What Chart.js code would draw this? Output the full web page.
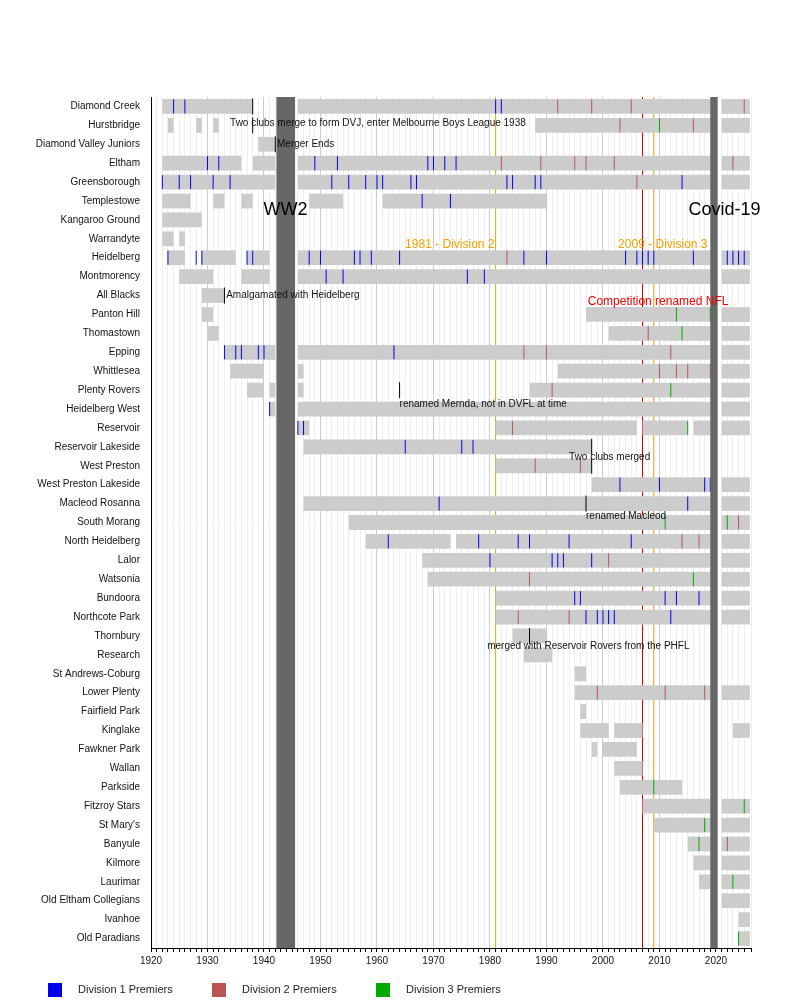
<!DOCTYPE html>
<html>
<head>
<meta charset="utf-8">
<script src="https://cdn.jsdelivr.net/npm/chart.js@4.4.1/dist/chart.umd.min.js"></script>
<style>
	body { margin: 0; background: #fff; font-family: 'Liberation Sans', Arial, sans-serif; }
	#wrap { position: relative; width: 800px; height: 1000px; }
	#legend { position: absolute; top: 983px; left: 48px; font-size: 11px; color: #222; }
	#legend span { position: absolute; white-space: nowrap; }
	#legend i { display: inline-block; width: 14px; height: 14px; vertical-align: middle; margin-right: 16px; }
</style>
</head>
<body>
<div id="wrap">
	<canvas id="chart" width="800" height="1000"></canvas>
	<div id="legend">
		<span style="left:0"><i style="background:#0000ee"></i>Division 1 Premiers</span>
		<span style="left:164px"><i style="background:#bb5555"></i>Division 2 Premiers</span>
		<span style="left:328px"><i style="background:#00aa00"></i>Division 3 Premiers</span>
	</div>
</div>
<script>
'use strict';

const clubs = ['Diamond Creek', 'Hurstbridge', 'Diamond Valley Juniors', 'Eltham', 'Greensborough', 'Templestowe',
	'Kangaroo Ground', 'Warrandyte', 'Heidelberg', 'Montmorency', 'All Blacks', 'Panton Hill', 'Thomastown', 'Epping',
	'Whittlesea', 'Plenty Rovers', 'Heidelberg West', 'Reservoir', 'Reservoir Lakeside', 'West Preston',
	'West Preston Lakeside', 'Macleod Rosanna', 'South Morang', 'North Heidelberg', 'Lalor', 'Watsonia', 'Bundoora',
	'Northcote Park', 'Thornbury', 'Research', 'St Andrews-Coburg', 'Lower Plenty', 'Fairfield Park', 'Kinglake',
	'Fawkner Park', 'Wallan', 'Parkside', 'Fitzroy Stars', "St Mary's", 'Banyule', 'Kilmore', 'Laurimar',
	'Old Eltham Collegians', 'Ivanhoe', 'Old Paradians'];

// Seasons played: [from, to] per club.
const seasons = [
	[[1922, 1938], [1946, 2020], [2021, 2026]],
	[[1923, 1924], [1928, 1929], [1931, 1932], [1988, 2020], [2021, 2026]],
	[[1939, 1942]],
	[[1922, 1936], [1938, 1942], [1946, 2020], [2021, 2026]],
	[[1922, 1942], [1946, 2020], [2021, 2026]],
	[[1922, 1927], [1931, 1933], [1936, 1938], [1948, 1954], [1961, 1990]],
	[[1922, 1929]],
	[[1922, 1924], [1925, 1926]],
	[[1923, 1926], [1929, 1935], [1937, 1941], [1946, 2020], [2021, 2026]],
	[[1925, 1931], [1936, 1941], [1946, 2020], [2021, 2026]],
	[[1929, 1933]],
	[[1929, 1931], [1997, 2020], [2021, 2026]],
	[[1930, 1932], [2001, 2020], [2021, 2026]],
	[[1933, 1942], [1946, 2020], [2021, 2026]],
	[[1934, 1940], [1946, 1947], [1992, 2020], [2021, 2026]],
	[[1937, 1940], [1941, 1942], [1946, 1947], [1987, 2020], [2021, 2026]],
	[[1941, 1942], [1946, 2020], [2021, 2026]],
	[[1946, 1948], [1981, 2006], [2007, 2015], [2016, 2020], [2021, 2026]],
	[[1947, 1998]],
	[[1981, 1998]],
	[[1998, 2020], [2021, 2026]],
	[[1947, 2020], [2021, 2026]],
	[[1955, 2020], [2021, 2026]],
	[[1958, 1973], [1974, 2020], [2021, 2026]],
	[[1968, 2020], [2021, 2026]],
	[[1969, 2020], [2021, 2026]],
	[[1981, 2020], [2021, 2026]],
	[[1981, 2020], [2021, 2026]],
	[[1984, 1990]],
	[[1986, 1991]],
	[[1995, 1997]],
	[[1995, 2020], [2021, 2026]],
	[[1996, 1997]],
	[[1996, 2001], [2002, 2007], [2023, 2026]],
	[[1998, 1999], [2000, 2006]],
	[[2002, 2007]],
	[[2003, 2014]],
	[[2007, 2020], [2021, 2026]],
	[[2009, 2020], [2021, 2026]],
	[[2015, 2020], [2021, 2026]],
	[[2016, 2020], [2021, 2026]],
	[[2017, 2020], [2021, 2026]],
	[[2019, 2020], [2021, 2026]],
	[[2024, 2026]],
	[[2024, 2026]]
];

const div1 = {
	'Diamond Creek': [1924, 1926, 1981, 1982],
	'Eltham': [1930, 1932, 1949, 1953, 1969, 1970, 1972, 1974],
	'Greensborough': [1922, 1925, 1927, 1931, 1934, 1952, 1955, 1958, 1960, 1961, 1966, 1967, 1983, 1984, 1988, 1989, 2014],
	'Templestowe': [1968, 1973],
	'Heidelberg': [1923, 1928, 1929, 1937, 1938, 1948, 1950, 1956, 1957, 1959, 1964, 1986, 1990, 2004, 2006, 2007, 2008, 2009, 2016, 2022, 2023, 2024, 2025],
	'Montmorency': [1951, 1954, 1976, 1979],
	'Epping': [1933, 1935, 1936, 1939, 1940, 1963],
	'Heidelberg West': [1941],
	'Reservoir': [1946, 1947],
	'Reservoir Lakeside': [1965, 1975, 1977],
	'West Preston Lakeside': [2003, 2010, 2018, 2019],
	'Macleod Rosanna': [1971, 2015],
	'North Heidelberg': [1962, 1978, 1985, 1987, 1994, 2005],
	'Lalor': [1980, 1991, 1992, 1993, 1998],
	'Bundoora': [1995, 1996, 2011, 2013, 2017],
	'Northcote Park': [1997, 1999, 2000, 2001, 2002, 2012]
};
const div2 = {
	'Diamond Creek': [1992, 1998, 2005, 2025],
	'Hurstbridge': [2003, 2016],
	'Eltham': [1982, 1989, 1995, 1997, 2002, 2023],
	'Greensborough': [2006],
	'Heidelberg': [1983],
	'Thomastown': [2008],
	'Epping': [1986, 1990, 2012],
	'Whittlesea': [2010, 2013, 2015, 2019],
	'Plenty Rovers': [1991],
	'Reservoir': [1984],
	'West Preston': [1988, 1996],
	'South Morang': [2024],
	'North Heidelberg': [2014, 2017],
	'Lalor': [2001],
	'Watsonia': [1987],
	'Northcote Park': [1985, 1994],
	'Lower Plenty': [1999, 2011, 2018],
	'Banyule': [2022]
};
const div3 = {
	'Hurstbridge': [2010],
	'Panton Hill': [2013, 2019],
	'Thomastown': [2014],
	'Plenty Rovers': [2012],
	'Reservoir': [2015],
	'South Morang': [2011, 2022],
	'Watsonia': [2016],
	'Parkside': [2009],
	'Fitzroy Stars': [2025],
	"St Mary's": [2018],
	'Banyule': [2017],
	'Laurimar': [2023],
	'Old Paradians': [2024]
};

// Black markers for club events.
const events = [
	['Diamond Creek', 1938], ['Hurstbridge', 1938], ['Diamond Valley Juniors', 1942], ['All Blacks', 1933],
	['Plenty Rovers', 1964], ['Reservoir Lakeside', 1998], ['West Preston', 1998], ['Macleod Rosanna', 1997],
	['Thornbury', 1987]
];
const notes = [
	['Two clubs merge to form DVJ, enter Melbourne Boys League 1938', 1934, 'Hurstbridge', -2],
	['Merger Ends', 1942.3, 'Diamond Valley Juniors', 0],
	['Amalgamated with Heidelberg', 1933.3, 'All Blacks', 0],
	['renamed Mernda, not in DVFL at time', 1964, 'Plenty Rovers', 14],
	['Two clubs merged', 1994, 'Reservoir Lakeside', 10],
	['renamed Macleod', 1997, 'Macleod Rosanna', 13],
	['merged with Reservoir Rovers from the PHFL', 1979.5, 'Thornbury', 10]
];

const barData = [];
clubs.forEach(function(club, i) {
	seasons[i].forEach(function(r) { barData.push({ x: r, y: club }); });
});
function marks(obj) {
	const out = [];
	Object.keys(obj).forEach(function(club) {
		obj[club].forEach(function(yr) { out.push({ x: yr, y: club }); });
	});
	return out;
}

const overlay = {
	id: 'overlay',
	beforeDatasetsDraw: function(chart) {
		const ctx = chart.ctx, xs = chart.scales.x, a = chart.chartArea;
		ctx.save();
		[[1981, '#f0a000'], [2009, '#f0a000'], [2007, '#dd0000']].forEach(function(l) {
			const x = xs.getPixelForValue(l[0]);
			ctx.strokeStyle = l[1]; ctx.lineWidth = 1;
			ctx.beginPath(); ctx.moveTo(x, a.top); ctx.lineTo(x, a.bottom); ctx.stroke();
		});
		ctx.restore();
	},
	afterDatasetsDraw: function(chart) {
		const ctx = chart.ctx, xs = chart.scales.x, ys = chart.scales.y, a = chart.chartArea;
		ctx.save();
		ctx.fillStyle = '#666';
		[[1942.2, 1945.5], [2019, 2020.3]].forEach(function(b) {
			const x0 = xs.getPixelForValue(b[0]), x1 = xs.getPixelForValue(b[1]);
			ctx.fillRect(x0, a.top, x1 - x0, a.bottom - a.top);
		});
		ctx.fillStyle = '#000';
		ctx.font = '18px "Liberation Sans", Arial, sans-serif';
		ctx.textBaseline = 'middle';
		ctx.textAlign = 'center';
		ctx.fillText('WW2', xs.getPixelForValue(1943.8), ys.getPixelForValue('Templestowe') + 9);
		ctx.fillText('Covid-19', xs.getPixelForValue(2021.5), ys.getPixelForValue('Templestowe') + 9);
		ctx.font = '12px "Liberation Sans", Arial, sans-serif';
		ctx.textAlign = 'right';
		ctx.fillStyle = '#f0a000';
		ctx.fillText('1981 - Division 2', xs.getPixelForValue(1980.8), ys.getPixelForValue('Heidelberg') - 13);
		ctx.fillText('2009 - Division 3', xs.getPixelForValue(2018.5), ys.getPixelForValue('Heidelberg') - 13);
		ctx.fillStyle = '#ee0000';
		ctx.textAlign = 'left';
		ctx.fillText('Competition renamed NFL', xs.getPixelForValue(1997.3), ys.getPixelForValue('All Blacks') + 6);
		ctx.font = '10px "Liberation Sans", Arial, sans-serif';
		ctx.fillStyle = '#111';
		notes.forEach(function(n) {
			ctx.fillText(n[0], xs.getPixelForValue(n[1]), ys.getPixelForValue(n[2]) + n[3]);
		});
		ctx.restore();
	}
};

new Chart(document.getElementById('chart'), {
	type: 'bar',
	data: {
		labels: clubs,
		datasets: [
			{
				label: 'Seasons',
				data: barData,
				backgroundColor: '#cccccc',
				barPercentage: 0.78,
				categoryPercentage: 1,
				grouped: false,
				order: 5
			},
			{ type: 'scatter', label: 'Division 1 Premiers', data: marks(div1), pointStyle: 'line', rotation: 90, radius: 7, borderColor: '#0000ee', borderWidth: 1, order: 1 },
			{ type: 'scatter', label: 'Division 2 Premiers', data: marks(div2), pointStyle: 'line', rotation: 90, radius: 7, borderColor: '#bb5555', borderWidth: 1, order: 1 },
			{ type: 'scatter', label: 'Division 3 Premiers', data: marks(div3), pointStyle: 'line', rotation: 90, radius: 7, borderColor: '#00aa00', borderWidth: 1, order: 1 },
			{ type: 'scatter', label: 'Events', data: events.map(function(e) { return { x: e[1], y: e[0] }; }), pointStyle: 'line', rotation: 90, radius: 8, borderColor: '#000', borderWidth: 1, order: 0 }
		]
	},
	options: {
		indexAxis: 'y',
		responsive: false,
		animation: false,
		layout: { padding: { top: 97, right: 49, bottom: 30, left: 0 } },
		plugins: { legend: { display: false }, tooltip: { enabled: false } },
		scales: {
			x: {
				type: 'linear',
				min: 1920,
				max: 2026.2,
				border: { color: '#000' },
				grid: {
					color: function(c) { return c.tick && c.tick.value % 10 === 0 ? '#cccccc' : '#eeeeee'; },
					tickColor: '#000',
					tickLength: 4
				},
				ticks: {
					stepSize: 1,
					autoSkip: false,
					maxRotation: 0,
					color: '#111',
					font: { size: 10, family: "'Liberation Sans', Arial, sans-serif" },
					callback: function(v) { return v % 10 === 0 ? String(v) : ''; }
				}
			},
			y: {
				type: 'category',
				labels: clubs,
				offset: true,
				grid: { display: false },
				border: { color: '#000' },
				afterFit: function(s) { s.width = 151; },
				ticks: { color: '#111', autoSkip: false, font: { size: 10, family: "'Liberation Sans', Arial, sans-serif" } }
			}
		}
	},
	plugins: [overlay]
});
</script>
</body>
</html>
